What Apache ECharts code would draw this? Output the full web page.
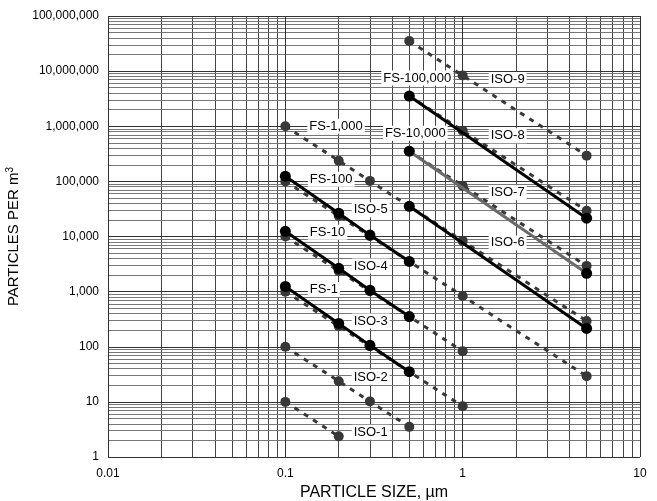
<!DOCTYPE html>
<html><head><meta charset="utf-8">
<script src="https://cdn.jsdelivr.net/npm/echarts@6/dist/echarts.min.js"></script>
<style>html,body{margin:0;padding:0;background:#fff}#c{width:657px;height:501px}</style>
</head><body><div id="c"></div>
<script>
// ISO 14644-1 class limits (particles per m^3) at particle size (um)
const iso1 = [[0.1, 10], [0.2, 2.37]];
const iso2 = [[0.1, 100], [0.2, 23.7], [0.3, 10.2], [0.5, 3.52]];
const iso3 = [[0.1, 1000], [0.2, 237], [0.3, 102], [0.5, 35.2], [1, 8.32]];
const iso4 = [[0.1, 10000], [0.2, 2370], [0.3, 1020], [0.5, 352], [1, 83.2]];
const iso5 = [[0.1, 100000], [0.2, 23700], [0.3, 10200], [0.5, 3520], [1, 832], [5, 29.3]];
const iso6 = [[0.1, 1000000], [0.2, 237000], [0.3, 102000], [0.5, 35200], [1, 8320], [5, 293]];
const iso7 = [[0.5, 352000], [1, 83200], [5, 2930]];
const iso8 = [[0.5, 3520000], [1, 832000], [5, 29300]];
const iso9 = [[0.5, 35200000], [1, 8320000], [5, 293000]];
// Federal Standard 209E classes
const fs1 = [[0.1, 1240], [0.2, 265], [0.3, 106], [0.5, 35.3]];
const fs10 = [[0.1, 12400], [0.2, 2650], [0.3, 1060], [0.5, 353]];
const fs100 = [[0.1, 124000], [0.2, 26500], [0.3, 10600], [0.5, 3530]];
const fs1000 = [[0.5, 35300], [5, 215]];
const fs10000 = [[0.5, 353000], [5, 2150]];
const fs100000 = [[0.5, 3530000], [5, 21500]];
// class labels
const labelTexts = ['ISO-1','ISO-2','ISO-3','ISO-4','ISO-5','ISO-6','ISO-7','ISO-8','ISO-9',
  'FS-1','FS-10','FS-100','FS-1,000','FS-10,000','FS-100,000'];
const xTickLabels = ['0.01', '0.1', '1', '10'];
const yTickLabels = ['1','10','100','1,000','10,000','100,000','1,000,000','10,000,000','100,000,000'];

const FONT = '"Liberation Sans", Arial, sans-serif';

function lab(text, pos, dist, off) {
  return {show: true, formatter: text, position: pos, distance: dist, offset: off,
    color: '#000', fontSize: 13, fontFamily: FONT, backgroundColor: '#fff', padding: [1, 2]};
}
function withLabels(data, labels) {
  return data.map((d, i) => labels[i] ? {value: d, label: labels[i]} : {value: d});
}
function isoSeries(name, data, labels) {
  return {name, type: 'line', z: 3, data: withLabels(data, labels), symbol: 'circle', symbolSize: 10,
    itemStyle: {color: '#383838'}, lineStyle: {color: '#383838', width: 3, type: [5, 6]}};
}
function fsSeries(name, data, labels, color) {
  return {name, type: 'line', z: 4, data: withLabels(data, labels), symbol: 'circle', symbolSize: 11,
    itemStyle: {color: '#000'}, lineStyle: {color: color || '#000', width: 3, type: 'solid'}};
}

// grid lines for log paper
const xGridMajor = [], xGridMinor = [], yGridMajor = [], yGridMinor = [];
for (let k = -2; k <= 0; k++) for (let m = 1; m <= 9; m++) (m === 1 ? xGridMajor : xGridMinor).push(+(m * Math.pow(10, k)).toPrecision(6));
xGridMajor.push(10);
for (let k = 0; k <= 7; k++) for (let m = 1; m <= 9; m++) (m === 1 ? yGridMajor : yGridMinor).push(m * Math.pow(10, k));
yGridMajor.push(1e8);

const gridLines = [];
xGridMinor.forEach(v => gridLines.push({xAxis: v, lineStyle: {color: '#444', width: 1, type: 'solid'}}));
yGridMinor.forEach(v => gridLines.push({yAxis: v, lineStyle: {color: '#777', width: 1, type: 'solid'}}));
xGridMajor.forEach(v => gridLines.push({xAxis: v, lineStyle: {color: '#333', width: 1, type: 'solid'}}));
yGridMajor.forEach(v => gridLines.push({yAxis: v, lineStyle: {color: '#333', width: 1, type: 'solid'}}));

const chart = echarts.init(document.getElementById('c'), null, {renderer: 'canvas'});
chart.setOption({
  animation: false,
  backgroundColor: '#fff',
  textStyle: {fontFamily: FONT},
  grid: {left: 108, right: 17, top: 16, bottom: 44, containLabel: false, outerBoundsMode: 'none'},
  xAxis: {type: 'log', logBase: 10, min: 0.01, max: 10,
    name: 'PARTICLE SIZE, \u00b5m', nameLocation: 'middle', nameGap: 26,
    nameTextStyle: {fontSize: 16, color: '#000', fontFamily: FONT},
    axisLine: {show: false}, axisTick: {show: false}, splitLine: {show: false},
    axisLabel: {fontSize: 12, color: '#000', margin: 11, fontFamily: FONT,
      formatter: v => { const i = Math.round(Math.log10(v)) + 2; return xTickLabels[i] !== undefined ? xTickLabels[i] : ''; }}},
  yAxis: {type: 'log', logBase: 10, min: 1, max: 1e8,
    name: 'PARTICLES PER m{s|3}', nameLocation: 'middle', nameGap: 76, nameRotate: 90,
    nameTextStyle: {fontSize: 15, color: '#000', fontFamily: FONT,
      rich: {s: {fontSize: 10, verticalAlign: 'top', color: '#000', fontFamily: FONT, padding: [0, 0, 8, 0]}}},
    axisLine: {show: false}, axisTick: {show: false}, splitLine: {show: false},
    axisLabel: {fontSize: 12, color: '#000', margin: 9, fontFamily: FONT,
      formatter: v => { const i = Math.round(Math.log10(v)); return yTickLabels[i] !== undefined ? yTickLabels[i] : ''; }}},
  series: [
    {type: 'line', z: 1, data: [], silent: true,
      markLine: {z: 1, silent: true, symbol: ['none', 'none'], label: {show: false}, animation: false, data: gridLines}},
    isoSeries('ISO-1', iso1, {1: lab(labelTexts[0], 'right', 8, [0, -4])}),
    isoSeries('ISO-2', iso2, {1: lab(labelTexts[1], 'right', 8, [0, -4])}),
    isoSeries('ISO-3', iso3, {1: lab(labelTexts[2], 'right', 8, [0, -5])}),
    isoSeries('ISO-4', iso4, {1: lab(labelTexts[3], 'right', 8, [0, -5])}),
    isoSeries('ISO-5', iso5, {1: lab(labelTexts[4], 'right', 8, [0, -6])}),
    isoSeries('ISO-6', iso6, {0: lab(labelTexts[12], 'right', 17, [0, 0]), 4: lab(labelTexts[5], 'right', 21, [0, 2])}),
    isoSeries('ISO-7', iso7, {1: lab(labelTexts[6], 'right', 21, [0, 7])}),
    isoSeries('ISO-8', iso8, {1: lab(labelTexts[7], 'right', 21, [0, 5])}),
    isoSeries('ISO-9', iso9, {1: lab(labelTexts[8], 'right', 21, [0, 4])}),
    fsSeries('FS-1', fs1, {0: lab(labelTexts[9], 'right', 17, [0, 3])}),
    fsSeries('FS-10', fs10, {0: lab(labelTexts[10], 'right', 17, [0, 1])}),
    fsSeries('FS-100', fs100, {0: lab(labelTexts[11], 'right', 17, [0, 3])}),
    fsSeries('FS-1,000', fs1000, {}),
    fsSeries('FS-10,000', fs10000, {0: lab(labelTexts[13], 'top', 5, [6, 0])}, '#6a6a6a'),
    fsSeries('FS-100,000', fs100000, {0: lab(labelTexts[14], 'top', 5, [8, 0])})
  ]
});
</script></body></html>
